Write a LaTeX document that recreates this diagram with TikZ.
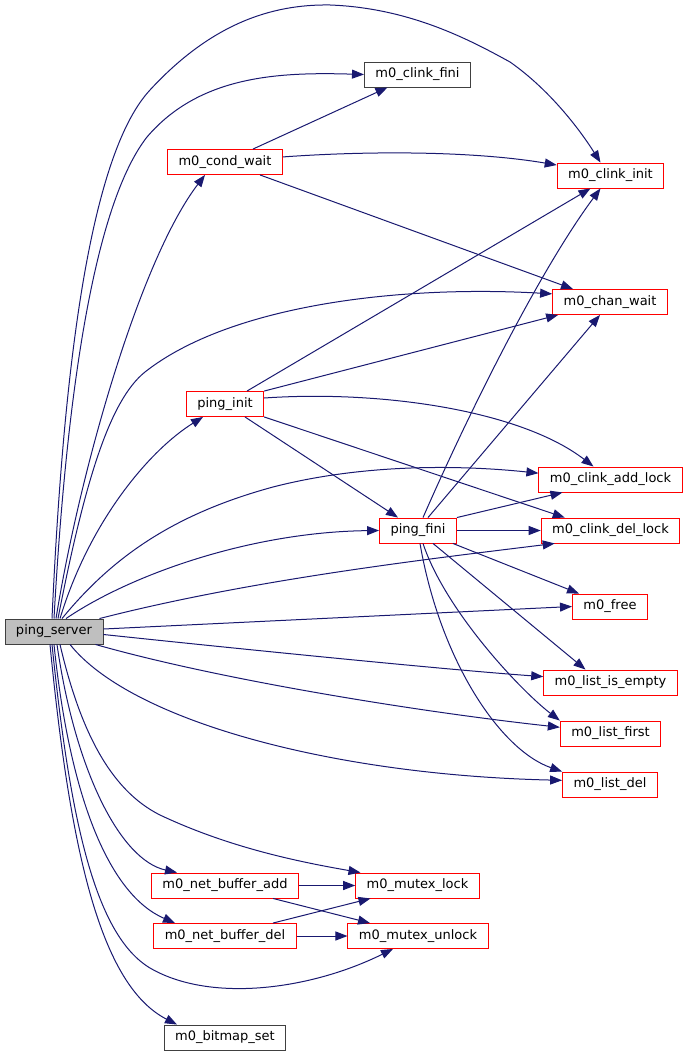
\documentclass[tikz,border=0pt]{standalone}
\usepackage{fontspec}
\setmainfont{DejaVu Sans}
\usepackage{tikz}
\usetikzlibrary{arrows.meta,positioning}
\definecolor{midnight}{HTML}{191970}
\tikzset{
  fn/.style={draw=red, fill=white, line width=0.9pt, minimum height=25pt,
    inner xsep=11pt, inner ysep=0pt, font=\fontsize{13}{15}\selectfont},
  extfn/.style={fn, draw=black!75},
  rootfn/.style={fn, draw=black!75, fill=black!25},
  call/.style={draw=midnight, line width=1pt, -{Triangle[length=12pt,width=9pt]}},
}

\begin{document}
\begin{tikzpicture}[x=1pt,y=-1pt]
\useasboundingbox (0,0) rectangle (689,1056);
\node[rootfn] (server) at (54,631.5) {ping\_server};
\node[extfn] (clinkfini) at (417.5,74.5) {m0\_clink\_fini};
\node[fn] (condwait) at (225,162) {m0\_cond\_wait};
\node[fn] (clinkinit) at (610.5,175.5) {m0\_clink\_init};
\node[fn] (chanwait) at (610,302) {m0\_chan\_wait};
\node[fn] (pinginit) at (225,404) {ping\_init};
\node[fn] (addlock) at (610.5,479.5) {m0\_clink\_add\_lock};
\node[fn] (pingfini) at (418,530.5) {ping\_fini};
\node[fn] (dellock) at (610.5,530.5) {m0\_clink\_del\_lock};
\node[fn] (free) at (610,606.5) {m0\_free};
\node[fn] (isempty) at (610.5,682.5) {m0\_list\_is\_empty};
\node[fn] (first) at (610.5,733.5) {m0\_list\_first};
\node[fn] (del) at (610,784.5) {m0\_list\_del};
\node[fn] (nbadd) at (225,885.5) {m0\_net\_buffer\_add};
\node[fn] (mlock) at (417.5,885.5) {m0\_mutex\_lock};
\node[fn] (nbdel) at (225,936) {m0\_net\_buffer\_del};
\node[fn] (munlock) at (418,936) {m0\_mutex\_unlock};
\node[extfn] (bitmap) at (225,1037.5) {m0\_bitmap\_set};

% calls of ping_server
\draw[call] ([xshift=-2]server.north) .. controls (62,400) and (85,160) .. (150,90)
  .. controls (210,25) and (270,4) .. (330,5) .. controls (410,8) and (470,40) .. (510,62)
  .. controls (550,90) and (580,130) .. ([xshift=-10]clinkinit.north);
\draw[call] (server.north) .. controls (65,420) and (90,210) .. (147,137)
  .. controls (200,75) and (280,72) .. (clinkfini.west);
\draw[call] ([xshift=2]server.north) .. controls (80,470) and (140,260) .. ([xshift=-20]condwait.south);
\draw[call] ([xshift=4]server.north) .. controls (85,480) and (110,400) .. (145,372)
  .. controls (230,305) and (400,285) .. (chanwait.172);
\draw[call] ([xshift=6]server.north) .. controls (90,520) and (150,450) .. ([xshift=-22]pinginit.south);
\draw[call] ([xshift=8]server.north) .. controls (110,560) and (170,515) .. (273,487)
  .. controls (370,462) and (470,466) .. (addlock.175);
\draw[call] ([xshift=12]server.north) .. controls (130,575) and (250,532) .. (pingfini.west);
\draw[call] ([xshift=-4]server.north east) .. controls (250,580) and (420,560) .. ([xshift=14]dellock.south west);
\draw[call] ([yshift=2.5]server.east) -- (free.west);
\draw[call] ([yshift=-3]server.east) .. controls (250,650) and (450,670) .. (isempty.175);
\draw[call] ([xshift=-8]server.south east) .. controls (220,680) and (420,712) .. (first.173);
\draw[call] ([xshift=16]server.south) .. controls (130,720) and (330,775) .. (del.175);
\draw[call] ([xshift=6]server.south) .. controls (80,730) and (110,790) .. (160,815)
  .. controls (230,848) and (300,862) .. ([xshift=-57]mlock.north);
\draw[call] ([xshift=3]server.south) .. controls (75,770) and (120,860) .. ([xshift=-48]nbadd.north);
\draw[call] (server.south) .. controls (70,800) and (110,895) .. ([xshift=-50]nbdel.north);
\draw[call] ([xshift=-2]server.south) .. controls (70,820) and (95,935) .. (150,968)
  .. controls (210,1003) and (310,990) .. ([xshift=-25]munlock.south);
\draw[call] ([xshift=-4]server.south) .. controls (70,850) and (100,985) .. ([xshift=-48]bitmap.north);

% calls of m0_cond_wait
\draw[call] ([xshift=28]condwait.north) -- ([xshift=-30]clinkfini.south);
\draw[call] (condwait.5) .. controls (380,150) and (480,152) .. (clinkinit.169);
\draw[call] ([xshift=35]condwait.south) -- ([xshift=-37]chanwait.north);

% calls of ping_init
\draw[call] ([xshift=22]pinginit.north) -- ([xshift=-20]clinkinit.south);
\draw[call] (pinginit.north east) -- ([xshift=6]chanwait.south west);
\draw[call] ([yshift=6]pinginit.east) .. controls (380,390) and (520,410) .. ([xshift=-17]addlock.north);
\draw[call] ([xshift=20]pinginit.south) -- ([xshift=-20]pingfini.north);
\draw[call] (pinginit.south east) -- ([xshift=24]dellock.north west);

% calls of ping_fini
\draw[call] ([xshift=5]pingfini.north) .. controls (470,410) and (540,270) .. ([xshift=-10]clinkinit.south);
\draw[call] ([xshift=10]pingfini.north) -- ([xshift=-10]chanwait.south);
\draw[call] (pingfini.north east) -- ([xshift=-48]addlock.south);
\draw[call] (pingfini.east) -- (dellock.west);
\draw[call] ([xshift=-4]pingfini.south east) -- ([xshift=-31]free.north);
\draw[call] ([xshift=15]pingfini.south) -- ([xshift=-25]isempty.north);
\draw[call] ([xshift=5]pingfini.south) .. controls (445,610) and (520,690) .. (first.north west);
\draw[call] ([xshift=2]pingfini.south) .. controls (440,660) and (500,750) .. (del.north west);

% calls of the net buffer functions
\draw[call] (nbadd.east) -- (mlock.west);
\draw[call] ([xshift=48]nbadd.south) -- ([xshift=-48]munlock.north);
\draw[call] ([xshift=48]nbdel.north) -- ([xshift=-47]mlock.south);
\draw[call] (nbdel.east) -- (munlock.west);
\end{tikzpicture}
\end{document}
